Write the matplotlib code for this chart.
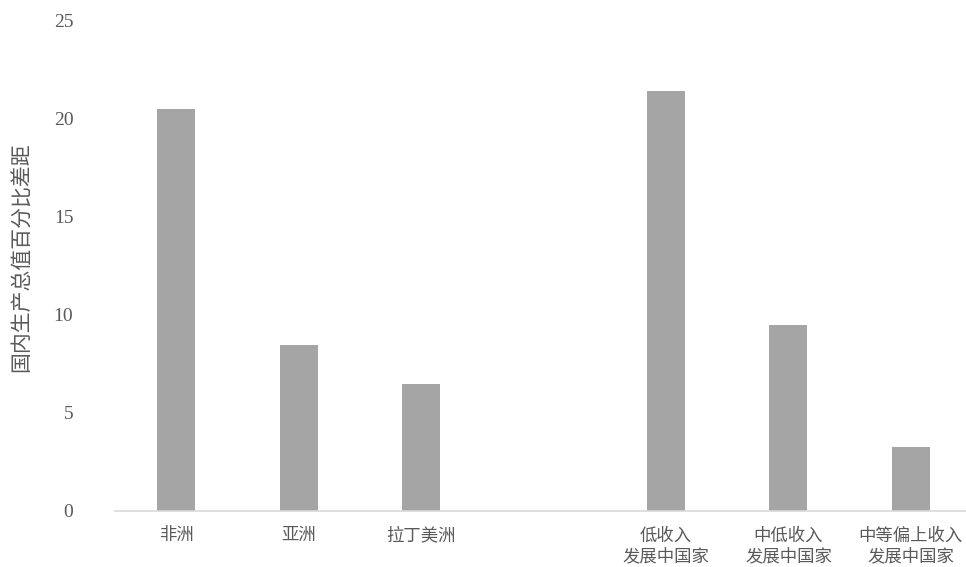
import matplotlib
matplotlib.use("Agg")
import matplotlib.pyplot as plt

# data
categories = ["非洲", "亚洲", "拉丁美洲", "", "低收入\n发展中国家", "中低收入\n发展中国家", "中等偏上收入\n发展中国家"]
values = [20.5, 8.45, 6.5, None, 21.45, 9.5, 3.25]
yticks = [0, 5, 10, 15, 20, 25]

cjk = ["Noto Sans CJK SC", "DejaVu Sans"]
serif = ["Liberation Serif", "DejaVu Serif"]
text_color = "#595959"

fig = plt.figure(figsize=(9.66, 5.67), dpi=100)
ax = fig.add_axes([0.119, 0.0988, 0.881, 0.8642])

xs = [i for i, v in enumerate(values) if v is not None]
hs = [v for v in values if v is not None]
ax.bar(xs, hs, width=0.31, color="#a5a5a5", zorder=2)

ax.set_xlim(-0.5, 6.45)
ax.set_ylim(0, 25)
ax.set_yticks(yticks)
ax.set_yticklabels([str(t) for t in yticks], family=serif, fontsize=14, color=text_color)
ax.set_xticks(range(len(categories)))
ax.set_xticklabels(categories, family=cjk, fontsize=12.5, color=text_color, linespacing=1.2)
ax.tick_params(axis="both", length=0)
ax.tick_params(axis="y", pad=30)
ax.tick_params(axis="x", pad=11)

for s in ["top", "right", "left"]:
    ax.spines[s].set_visible(False)
ax.spines["bottom"].set_color("#d9d9d9")
ax.spines["bottom"].set_linewidth(1.2)

# y label placed by hand so tick padding does not push it off the figure
fig.text(0.023, 0.547, "国内生产总值百分比差距", family=cjk, fontsize=15,
         color=text_color, rotation=90, ha="center", va="center")

fig.savefig("out.png", dpi=100)
